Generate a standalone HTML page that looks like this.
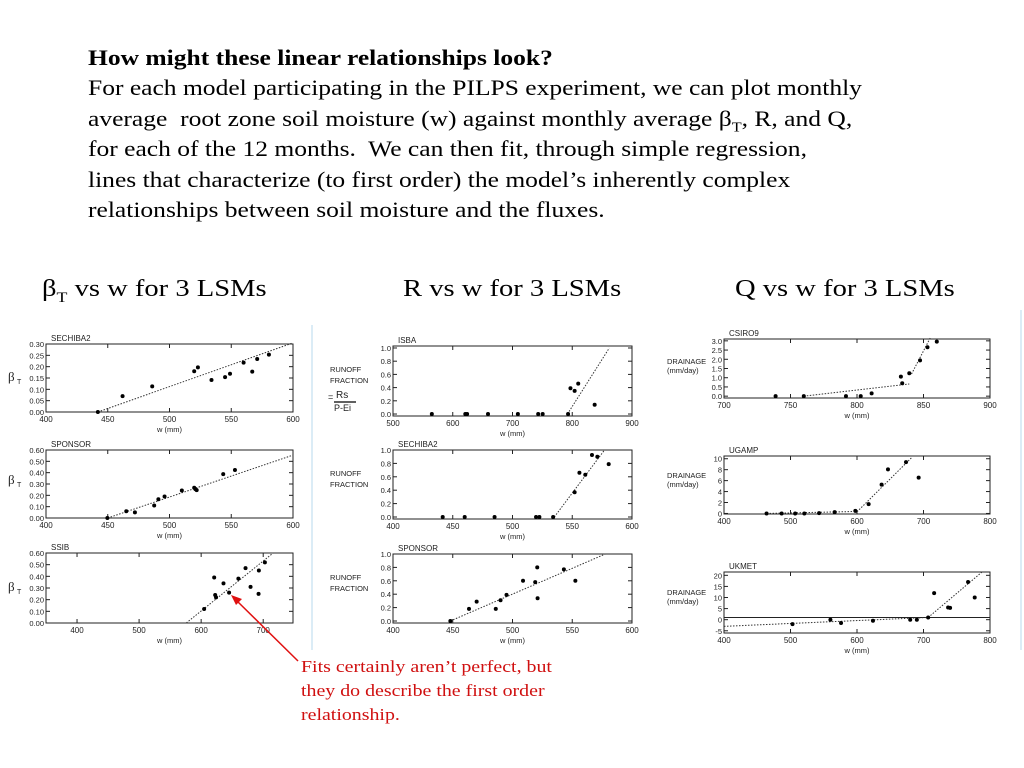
<!DOCTYPE html>
<html><head><meta charset="utf-8">
<style>
body{margin:0;width:1024px;height:768px;background:#fff;position:relative;overflow:hidden;font-family:"Liberation Serif",serif;}
.t{position:absolute;white-space:nowrap;color:#000;transform-origin:0 0;}
#intro{left:88px;top:43px;font-size:22px;line-height:30.4px;transform:scaleX(1.16);}
#intro sub{font-size:14px;line-height:0;}
.ttl{font-size:24px;top:276px;transform:scaleX(1.19);}
.ttl sub{font-size:15px;line-height:0;}
.note{position:absolute;left:301px;top:655px;color:#d01010;font-size:17px;line-height:24px;white-space:nowrap;transform-origin:0 0;transform:scaleX(1.17);}
svg{position:absolute;left:0;top:0;}
</style></head><body>
<div id="intro" class="t"><b>How might these linear relationships look?</b><br>For each model participating in the PILPS experiment, we can plot monthly<br>average&nbsp; root zone soil moisture (w) against monthly average β<sub>T</sub>, R, and Q,<br>for each of the 12 months.&nbsp; We can then fit, through simple regression,<br>lines that characterize (to first order) the model’s inherently complex<br>relationships between soil moisture and the fluxes.</div>
<div class="t ttl" style="left:42px">β<sub>T</sub> vs w for 3 LSMs</div>
<div class="t ttl" style="left:403px">R vs w for 3 LSMs</div>
<div class="t ttl" style="left:735px">Q vs w for 3 LSMs</div>
<div class="note">Fits certainly aren’t perfect, but<br>they do describe the first order<br>relationship.</div>
<svg id="s" width="1024" height="768"></svg>
<script>
// ---- data ----
const b1X=[442,462,486,520,523,534,545,549,560,567,571,580.5];
const b1Y=[0,0.07,0.113,0.18,0.197,0.141,0.154,0.169,0.218,0.178,0.234,0.253];
const b1Fit=[[442,0],[600,0.305]];
const b2X=[449.7,465,472,487.6,491,496,510,520,521,522,543.5,553];
const b2Y=[0,0.06,0.05,0.11,0.165,0.19,0.243,0.267,0.255,0.246,0.387,0.423];
const b2Fit=[[450,0],[600,0.555]];
const b3X=[604.8,621,622.6,624,636,645,660,671.5,679.6,693,692.5,702.7];
const b3Y=[0.12,0.39,0.24,0.22,0.34,0.26,0.38,0.47,0.31,0.45,0.25,0.52];
const b3Fit=[[576,0],[716,0.6]];
const r1X=[565,621,624,659,709,743,750.5,793,797,804,810,837.5];
const r1Y=[0,0,0,0,0,0,0,0,0.39,0.35,0.46,0.14];
const r1Fit=[[792,0],[862,1.0]];
const r2X=[441.6,460,485,519.7,522.5,534,552,556,560.9,566.5,571,580.5];
const r2Y=[0,0,0,0,0,0,0.37,0.66,0.63,0.925,0.9,0.79];
const r2Fit=[[535,0],[577,1.0]];
const r3X=[448,463.6,470,486,490,495,508.8,519,520.7,521,543,552.6];
const r3Y=[0,0.18,0.29,0.18,0.31,0.39,0.6,0.58,0.8,0.34,0.77,0.6];
const r3Fit=[[448,0],[577.7,1.0]];
const q1X=[738.8,760,791.7,802.8,811,833,834,839.3,847.4,853,860];
const q1Y=[0,0,0,0,0.15,1.06,0.7,1.24,1.94,2.65,2.96];
const q1Fit=[[760,0],[839.3,0.66]];
const q1Fit2=[[841,1.2],[855,3.15]];
const q2X=[464,486.7,507,520.8,543,566.4,597.5,617.5,637,646.6,673.7,692.7];
const q2Y=[0,0,0,0,0.06,0.24,0.48,1.7,5.27,8.06,9.39,6.55];
const q2Fit=[[464,0],[597.5,0.36]];
const q2Fit2=[[600,0.3],[683,10.3]];
const q3X=[503,560,576,624,680,690,707,716,737,740,767,777];
const q3Y=[-2,0,-1.5,-0.5,0,0,1,12,5.5,5.3,17,10];
const q3Fit=[[400,-3],[707,1]];
const q3Fit2=[[707,1],[788,21.5]];
// ---- rendering ----
const S=document.getElementById('s');const NS='http://www.w3.org/2000/svg';
function mk(t,a,p){const e=document.createElementNS(NS,t);for(const k in a)e.setAttribute(k,a[k]);(p||S).appendChild(e);return e;}
function panel(c,name,xs,ys,fits,hline){
 const g=mk('g',{});
 
 
 const sx=v=>c.l+(v-c.x0)/(c.x1-c.x0)*(c.r-c.l);
 const sy=v=>c.b-(v-c.y0)/(c.y1-c.y0)*(c.b-c.t);
 const fr=mk('rect',{x:c.l,y:c.t,width:c.r-c.l,height:c.b-c.t,fill:'none',stroke:'#222','stroke-width':1},g);
 
 
 c.xt.forEach(v=>{const x=sx(v);mk('line',{x1:x,x2:x,y1:c.b,y2:c.b-4,stroke:'#222'},g);mk('line',{x1:x,x2:x,y1:c.t,y2:c.t+4,stroke:'#222'},g);
  const tx=mk('text',{x:x,y:c.b+10,'font-size':8,'text-anchor':'middle','font-family':'Liberation Sans,sans-serif',fill:'#222'},g);tx.textContent=v;
  
  });
 c.yt.forEach(v=>{const y=sy(v);mk('line',{x1:c.l,x2:c.l+4,y1:y,y2:y,stroke:'#222'},g);mk('line',{x1:c.r,x2:c.r-4,y1:y,y2:y,stroke:'#222'},g);
  const tx=mk('text',{x:c.l-2,y:y+3,'font-size':7.5,'text-anchor':'end','font-family':'Liberation Sans,sans-serif',fill:'#222'},g);tx.textContent=v.toFixed(c.d);
  
  });
 const xl=mk('text',{x:(c.l+c.r)/2,y:c.b+20,'font-size':7.5,'text-anchor':'middle','font-family':'Liberation Sans,sans-serif',fill:'#222'},g);xl.textContent='w (mm)';
 
 
 const ti=mk('text',{x:c.l+5,y:c.t-3,'font-size':8,'font-family':'Liberation Sans,sans-serif',fill:'#222'},g);ti.textContent=c.name;
 
 
 if(hline!==undefined){const h=mk('line',{x1:c.l,x2:c.r,y1:sy(hline),y2:sy(hline),stroke:'#222'},g);
  
  }
 fits.forEach(f=>{const ln=mk('line',{x1:sx(f[0][0]),y1:sy(f[0][1]),x2:sx(f[1][0]),y2:sy(f[1][1]),stroke:'#333','stroke-dasharray':'1.5,1.5','stroke-width':1},g);
  
  });
 xs.forEach((v,i)=>{const p=mk('circle',{cx:sx(v),cy:sy(Math.max(ys[i],c.y0)),r:2,fill:'#000'},g);
  
  });
}
const c1={l:46,r:293},c2={l:393,r:632},c3={l:724,r:990};
panel(Object.assign({t:344,b:412,x0:400,x1:600,y0:0,y1:0.3,xt:[400,450,500,550,600],yt:[0,0.05,0.1,0.15,0.2,0.25,0.3],d:2,name:'SECHIBA2'},c1),'beta-sechiba2',b1X,b1Y,[b1Fit]);
panel(Object.assign({t:450,b:518,x0:400,x1:600,y0:0,y1:0.6,xt:[400,450,500,550,600],yt:[0,0.1,0.2,0.3,0.4,0.5,0.6],d:2,name:'SPONSOR'},c1),'beta-sponsor',b2X,b2Y,[b2Fit]);
panel(Object.assign({t:553,b:623,x0:350,x1:748,y0:0,y1:0.6,xt:[400,500,600,700],yt:[0,0.1,0.2,0.3,0.4,0.5,0.6],d:2,name:'SSIB'},c1),'beta-ssib',b3X,b3Y,[b3Fit]);
panel(Object.assign({t:346,b:416,x0:500,x1:900,y0:-0.03,y1:1.03,xt:[500,600,700,800,900],yt:[0,0.2,0.4,0.6,0.8,1.0],d:1,name:'ISBA'},c2),'runoff-isba',r1X,r1Y,[r1Fit]);
panel(Object.assign({t:450,b:519,x0:400,x1:600,y0:-0.03,y1:1.0,xt:[400,450,500,550,600],yt:[0,0.2,0.4,0.6,0.8,1.0],d:1,name:'SECHIBA2'},c2),'runoff-sechiba2',r2X,r2Y,[r2Fit]);
panel(Object.assign({t:554,b:623,x0:400,x1:600,y0:-0.03,y1:1.0,xt:[400,450,500,550,600],yt:[0,0.2,0.4,0.6,0.8,1.0],d:1,name:'SPONSOR'},c2),'runoff-sponsor',r3X,r3Y,[r3Fit]);
panel(Object.assign({t:339,b:398,x0:700,x1:900,y0:-0.1,y1:3.1,xt:[700,750,800,850,900],yt:[0,0.5,1,1.5,2,2.5,3],d:1,name:'CSIRO9'},c3),'drainage-csiro9',q1X,q1Y,[q1Fit,q1Fit2]);
panel(Object.assign({t:456,b:514,x0:400,x1:800,y0:-0.1,y1:10.5,xt:[400,500,600,700,800],yt:[0,2,4,6,8,10],d:0,name:'UGAMP'},c3),'drainage-ugamp',q2X,q2Y,[q2Fit,q2Fit2]);
panel(Object.assign({t:572,b:633,x0:400,x1:800,y0:-6,y1:21.5,xt:[400,500,600,700,800],yt:[-5,0,5,10,15,20],d:0,name:'UKMET'},c3),'drainage-ukmet',q3X,q3Y,[q3Fit,q3Fit2],1);
// side labels
function lab(x,y,txt,fs,name,ff){const t=mk('text',{x:x,y:y,'font-size':fs,'font-family':ff||'Liberation Sans,sans-serif',fill:'#222'});t.textContent=txt;
 
 return t;}
[381,484,591].forEach(y=>{lab(8,y,'β',13,'beta-axis-label','Liberation Serif,serif');lab(17,y+3,'T',7,'beta-axis-label-sub');});
[[372,'RUNOFF'],[383,'FRACTION'],[476,'RUNOFF'],[487,'FRACTION'],[580,'RUNOFF'],[591,'FRACTION']].forEach(a=>lab(330,a[0],a[1],7.5,'runoff-axis-label'));
lab(328,400,'=',9,'runoff-eq');lab(336,398,'Rs',10,'runoff-eq-num');mk('line',{x1:334,x2:356,y1:402,y2:402,stroke:'#000','stroke-width':1.2});lab(334,411,'P-Ei',9,'runoff-eq-den');
[[364,'DRAINAGE'],[373,'(mm/day)'],[478,'DRAINAGE'],[487,'(mm/day)'],[595,'DRAINAGE'],[604,'(mm/day)']].forEach(a=>lab(667,a[0],a[1],7.5,'drainage-axis-label'));
// separators
mk('line',{x1:312,x2:312,y1:325,y2:650,stroke:'#cfe6f3','stroke-width':1.5});
mk('line',{x1:1021,x2:1021,y1:310,y2:650,stroke:'#cfe6f3','stroke-width':1.5});
// arrow
const ar=mk('line',{x1:298,y1:661,x2:236,y2:600,stroke:'#e01010','stroke-width':1.5});


mk('polygon',{points:'231,595 242,599 236,605',fill:'#e01010'});
</script>
</body></html>
